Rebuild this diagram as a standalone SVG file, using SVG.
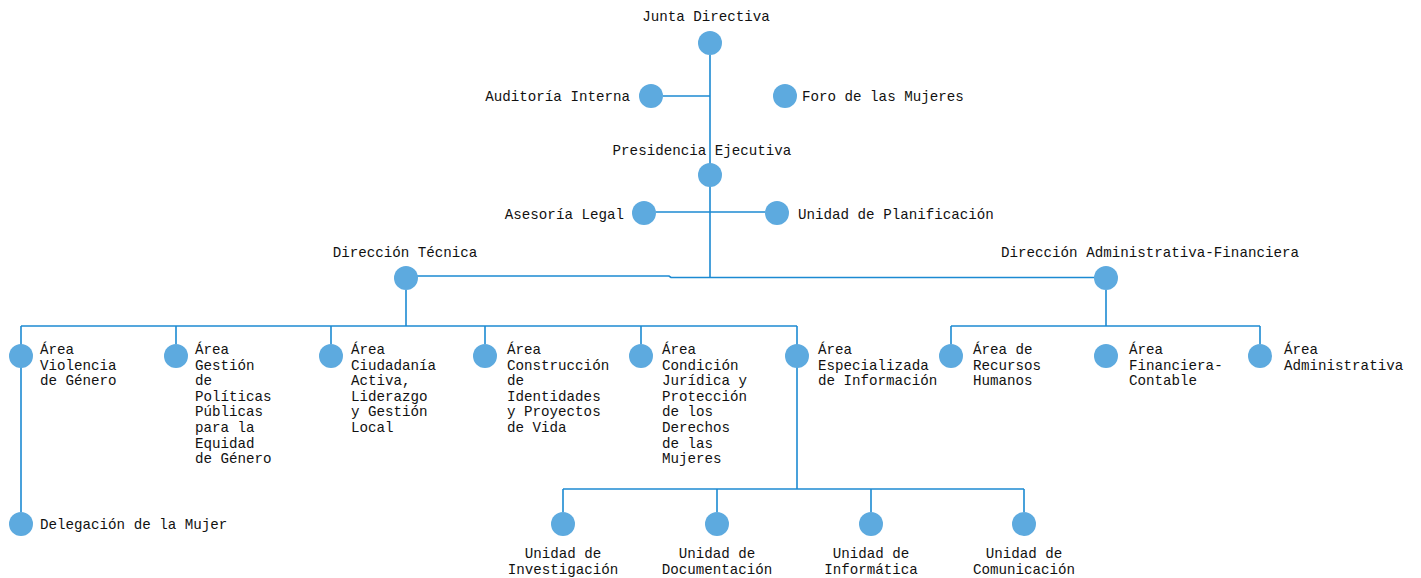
<svg xmlns="http://www.w3.org/2000/svg" width="1421" height="578" viewBox="0 0 1421 578">
<style>
text{font-family:"Liberation Mono","Courier New",monospace;font-size:14.2px;fill:#111}
.m{text-anchor:middle}
.e{text-anchor:end}
circle{fill:#5DAADF}
#connectors path{fill:none;stroke:#1C8AD2;stroke-width:1.6}
</style>
<rect width="1421" height="578" fill="#fff"/>
<g id="connectors">
<path d="M710,55V277"/>
<path d="M663,96H710"/>
<path d="M656,212H765"/>
<path d="M406,276H669L671,277.5H1106"/>
<path d="M406,290V326"/>
<path d="M21,326H797"/>
<path d="M21,326V512"/>
<path d="M176,326V344M331,326V344M485,326V344M641,326V344"/>
<path d="M797,326V489"/>
<path d="M563,489H1024"/>
<path d="M563,489V512M717,489V512M871,489V512M1024,489V512"/>
<path d="M1106,290V326"/>
<path d="M951,326H1260"/>
<path d="M951,326V344M1260,326V344"/>
</g>
<g id="junta"><circle cx="710" cy="43" r="12"/><text class="m" x="706" y="21">Junta Directiva</text></g>
<g id="auditoria"><circle cx="651" cy="96" r="12"/><text class="e" x="630" y="101">Auditoría Interna</text></g>
<g id="foro"><circle cx="785" cy="96" r="12"/><text x="802" y="101">Foro de las Mujeres</text></g>
<g id="presidencia"><circle cx="710" cy="175" r="12"/><text class="m" x="702" y="155">Presidencia Ejecutiva</text></g>
<g id="asesoria"><circle cx="644" cy="213" r="12"/><text class="e" x="624" y="219">Asesoría Legal</text></g>
<g id="planificacion"><circle cx="777" cy="213" r="12"/><text x="798" y="219">Unidad de Planificación</text></g>
<g id="dir-tecnica"><circle cx="406" cy="278" r="12"/><text class="m" x="405" y="257">Dirección Técnica</text></g>
<g id="dir-admin"><circle cx="1106" cy="278" r="12"/><text class="m" x="1150" y="257">Dirección Administrativa-Financiera</text></g>
<g id="area-violencia"><circle cx="21" cy="356" r="12"/><text x="40" y="354"><tspan x="40">Área</tspan><tspan x="40" dy="15.6">Violencia</tspan><tspan x="40" dy="15.6">de Género</tspan></text></g>
<g id="area-gestion"><circle cx="176" cy="356" r="12"/><text x="195" y="354"><tspan x="195">Área</tspan><tspan x="195" dy="15.6">Gestión</tspan><tspan x="195" dy="15.6">de</tspan><tspan x="195" dy="15.6">Políticas</tspan><tspan x="195" dy="15.6">Públicas</tspan><tspan x="195" dy="15.6">para la</tspan><tspan x="195" dy="15.6">Equidad</tspan><tspan x="195" dy="15.6">de Género</tspan></text></g>
<g id="area-ciudadania"><circle cx="331" cy="356" r="12"/><text x="351" y="354"><tspan x="351">Área</tspan><tspan x="351" dy="15.6">Ciudadanía</tspan><tspan x="351" dy="15.6">Activa,</tspan><tspan x="351" dy="15.6">Liderazgo</tspan><tspan x="351" dy="15.6">y Gestión</tspan><tspan x="351" dy="15.6">Local</tspan></text></g>
<g id="area-construccion"><circle cx="485" cy="356" r="12"/><text x="507" y="354"><tspan x="507">Área</tspan><tspan x="507" dy="15.6">Construcción</tspan><tspan x="507" dy="15.6">de</tspan><tspan x="507" dy="15.6">Identidades</tspan><tspan x="507" dy="15.6">y Proyectos</tspan><tspan x="507" dy="15.6">de Vida</tspan></text></g>
<g id="area-condicion"><circle cx="641" cy="356" r="12"/><text x="662" y="354"><tspan x="662">Área</tspan><tspan x="662" dy="15.6">Condición</tspan><tspan x="662" dy="15.6">Jurídica y</tspan><tspan x="662" dy="15.6">Protección</tspan><tspan x="662" dy="15.6">de los</tspan><tspan x="662" dy="15.6">Derechos</tspan><tspan x="662" dy="15.6">de las</tspan><tspan x="662" dy="15.6">Mujeres</tspan></text></g>
<g id="area-especializada"><circle cx="797" cy="356" r="12"/><text x="818" y="354"><tspan x="818">Área</tspan><tspan x="818" dy="15.6">Especializada</tspan><tspan x="818" dy="15.6">de Información</tspan></text></g>
<g id="area-rrhh"><circle cx="951" cy="356" r="12"/><text x="973" y="354"><tspan x="973">Área de</tspan><tspan x="973" dy="15.6">Recursos</tspan><tspan x="973" dy="15.6">Humanos</tspan></text></g>
<g id="area-financiera"><circle cx="1106" cy="356" r="12"/><text x="1129" y="354"><tspan x="1129">Área</tspan><tspan x="1129" dy="15.6">Financiera-</tspan><tspan x="1129" dy="15.6">Contable</tspan></text></g>
<g id="area-administrativa"><circle cx="1260" cy="356" r="12"/><text x="1284" y="354"><tspan x="1284">Área</tspan><tspan x="1284" dy="15.6">Administrativa</tspan></text></g>
<g id="delegacion"><circle cx="21" cy="524" r="12"/><text x="40" y="529">Delegación de la Mujer</text></g>
<g id="u-investigacion"><circle cx="563" cy="524" r="12"/><text class="m" y="558"><tspan x="563">Unidad de</tspan><tspan x="563" dy="15.6">Investigación</tspan></text></g>
<g id="u-documentacion"><circle cx="717" cy="524" r="12"/><text class="m" y="558"><tspan x="717">Unidad de</tspan><tspan x="717" dy="15.6">Documentación</tspan></text></g>
<g id="u-informatica"><circle cx="871" cy="524" r="12"/><text class="m" y="558"><tspan x="871">Unidad de</tspan><tspan x="871" dy="15.6">Informática</tspan></text></g>
<g id="u-comunicacion"><circle cx="1024" cy="524" r="12"/><text class="m" y="558"><tspan x="1024">Unidad de</tspan><tspan x="1024" dy="15.6">Comunicación</tspan></text></g>
</svg>
